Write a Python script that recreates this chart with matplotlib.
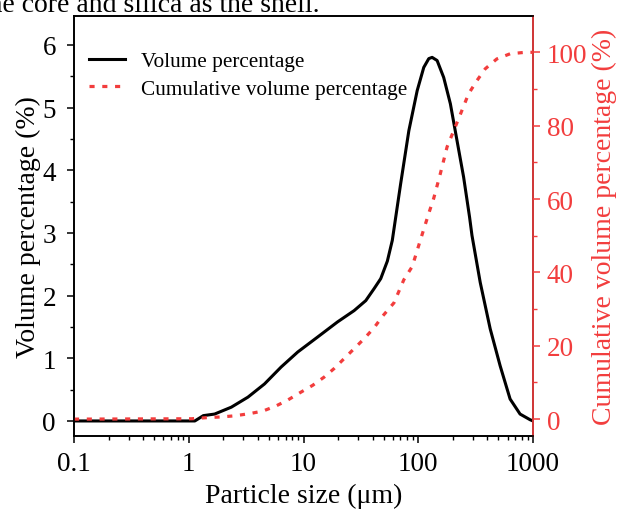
import numpy as np
import matplotlib
matplotlib.use('Agg')
import matplotlib.pyplot as plt

plt.rcParams['font.family'] = ['Liberation Serif', 'DejaVu Serif']

# Volume percentage (black line)
size_vol = [0.1, 1.13, 1.34, 1.68, 2.35, 3.28, 4.57, 6.38, 8.91, 13.3, 19.8, 27.6, 34.9,
            41.2, 47.1, 53.8, 59.4, 70.2, 82.8, 97.9, 111.7, 123.5, 132.1, 146.0, 166.6,
            190.5, 217.8, 248.5, 280.1, 293.9, 346.8, 423.6, 517.2, 631.6, 771.4, 942,
            1000]
vol_pct = [0.0, 0.0, 0.085, 0.11, 0.22, 0.38, 0.59, 0.86, 1.10, 1.34, 1.58, 1.76, 1.92,
           2.11, 2.27, 2.55, 2.88, 3.78, 4.63, 5.27, 5.64, 5.78, 5.80, 5.75, 5.48,
           5.06, 4.47, 3.89, 3.25, 2.96, 2.21, 1.47, 0.88, 0.35, 0.11, 0.02,
           0.0]

# Cumulative volume percentage (red dotted)
size_cum = [0.1, 1.06, 1.43, 1.92, 2.51, 3.39, 4.43, 5.77, 7.29, 9.20, 12.0, 15.2, 18.5,
            22.6, 27.6, 33.7, 41.2, 48.7, 61.4, 74.9, 88.6, 104.6, 123.5, 136.4, 156.0,
            178.3, 224.8, 274.5, 324.8, 383.3, 484.2, 631.6, 852.3, 1000]
cum_pct = [0.0, 0.1, 0.4, 0.6, 0.9, 1.5, 2.2, 3.6, 5.2, 7.1, 9.2, 11.5, 13.8,
           16.5, 19.2, 21.9, 24.9, 28.0, 31.7, 38.0, 41.6, 48.9, 56.1, 60.2, 67.0,
           74.2, 81.9, 88.7, 92.3, 95.5, 98.2, 99.6, 100.0, 100.0]

xticks = [0.1, 1, 10, 100, 1000]
xticklabels = ['0.1', '1', '10', '100', '1000']

red = '#F23D3D'

fig = plt.figure(figsize=(6.18, 5.10), dpi=100)
ax = fig.add_axes([74 / 618, 1 - 437 / 510, (533 - 74) / 618, (437 - 17) / 510])

l1, = ax.plot(size_vol, vol_pct, color='black', lw=2.2, label='Volume percentage')
ax.set_xscale('log')
ax.set_xlim(0.1, 1000)
ax.set_ylim(-0.24, 6.46)
ax.set_xticks(xticks)
ax.set_xticklabels(xticklabels)
ax.set_yticks(range(0, 7))
ax.set_yticks(np.arange(0.5, 6.5, 1.0), minor=True)
ax.tick_params(axis='both', which='major', direction='out', length=5, width=1.1,
               labelsize=19.5)
ax.tick_params(axis='x', which='major', pad=6)
ax.tick_params(axis='y', which='major', pad=8)
ax.tick_params(axis='both', which='minor', direction='out', length=3, width=1.0)
ax.set_xlabel('Particle size (μm)', fontsize=20, labelpad=5)
ax.set_ylabel('Volume percentage (%)', fontsize=20, labelpad=1)
for s in ax.spines.values():
    s.set_linewidth(1.2)

ax2 = ax.twinx()
l2, = ax2.plot(size_cum, cum_pct, color=red, lw=2.3, linestyle=(0, (1.6, 2.4)),
               label='Cumulative volume percentage')
ax2.set_ylim(-4.6, 109.9)
ax2.set_yticks(range(0, 101, 20))
ax2.set_yticks(range(10, 100, 20), minor=True)
ax2.tick_params(axis='y', which='major', direction='out', length=5, width=1.1,
                labelsize=19.5, colors=red, pad=5)
ax2.tick_params(axis='y', which='minor', direction='out', length=3, width=1.0, colors=red)
ax2.set_ylabel('Cumulative volume percentage (%)', fontsize=20, color=red, labelpad=3)
ax2.spines['right'].set_color(red)
for s in ax2.spines.values():
    s.set_linewidth(1.2)

ax.legend(handles=[l1, l2], loc='upper left', bbox_to_anchor=(-0.005, 0.956), frameon=False,
          fontsize=15.3, handlelength=1.7, handletextpad=0.75, labelspacing=0.35,
          borderaxespad=0.4)

fig.text(-19 / 618, 1 - 12 / 510, 'the core and silica as the shell.', fontsize=20,
         va='baseline', ha='left')

fig.savefig('out.png', dpi=100)
